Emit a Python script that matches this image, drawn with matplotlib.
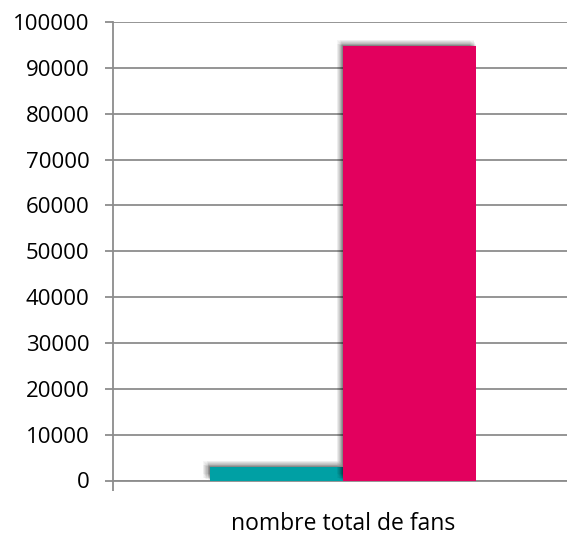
import matplotlib
matplotlib.use("Agg")
import matplotlib.pyplot as plt
import matplotlib.patheffects as pe

# data
category = "nombre total de fans"
series_values = [2850, 94700]
series_colors = ["#00A0A4", "#E3005E"]
y_ticks = list(range(0, 100001, 10000))

plt.rcParams['font.family'] = ['Open Sans', 'DejaVu Sans']

fig = plt.figure(figsize=(5.67, 5.35), dpi=100)
ax = fig.add_axes([113 / 567, 1 - 480.5 / 535, (573 - 113) / 567, (480.5 - 22) / 535])

grid_col = "#8C8C8C"
ax.set_ylim(0, 100000)
ax.set_xlim(-0.5, 0.5)
ax.set_yticks(y_ticks)
ax.set_yticklabels([str(t) for t in y_ticks], fontsize=16)
ax.yaxis.grid(True, color=grid_col, linewidth=1.3)
ax.set_axisbelow(True)
for side in ["top", "right"]:
    ax.spines[side].set_visible(False)
ax.spines["left"].set_color(grid_col)
ax.spines["bottom"].set_color(grid_col)
ax.spines["left"].set_linewidth(1.3)
ax.spines["bottom"].set_linewidth(1.3)
ax.tick_params(axis="y", length=6, width=1.3, color=grid_col, pad=11)

# category tick marks at the edges, label in the middle
ax.set_xticks([-0.5, 0.5])
ax.set_xticklabels(["", ""])
ax.tick_params(axis="x", length=7, width=1.3, color=grid_col)
ax.text(0.0, -0.095, category, transform=ax.get_xaxis_transform(),
        ha="center", va="center", fontsize=16.5)

# soft blurred shadow up-left, like Excel
shadow = []
for r in [6, 5, 4, 3, 2, 1]:
    for dx, dy in [(r, r), (r, r * 0.4), (r * 0.4, r)]:
        shadow.append(pe.SimplePatchShadow(offset=(-dx * 0.75, dy * 0.75),
                                           shadow_rgbFace="black", alpha=0.035))
shadow.append(pe.Normal())

width = 0.29
offsets = [-width / 2, width / 2]
for val, col, off in zip(series_values, series_colors, offsets):
    ax.bar(off, val, width=width, color=col, linewidth=0, path_effects=shadow, zorder=3)

fig.savefig("out.png", dpi=100)
